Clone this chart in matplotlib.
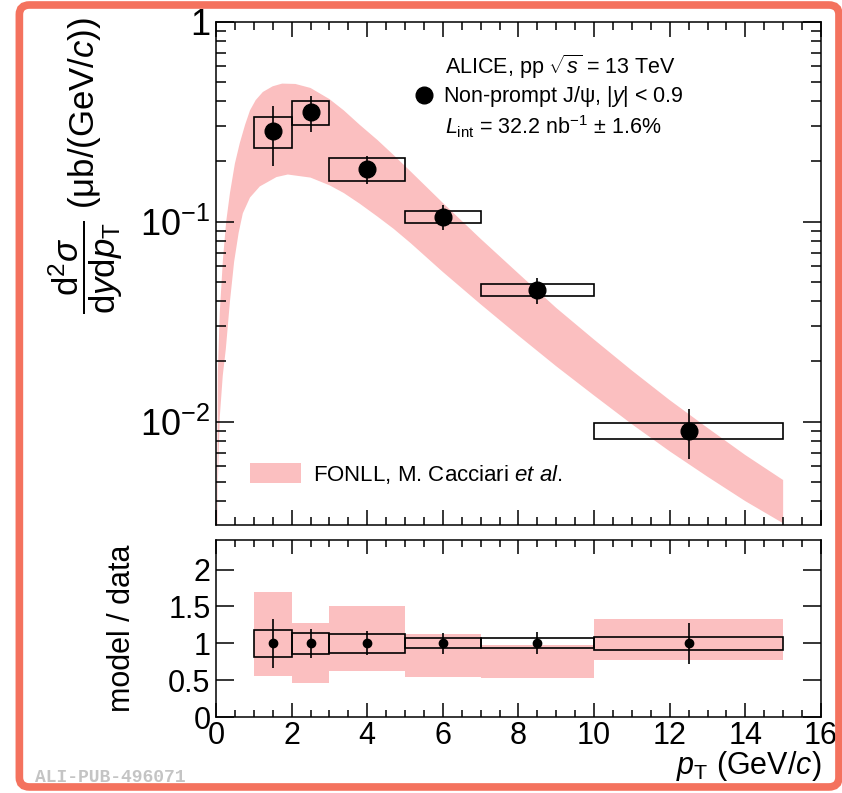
import numpy as np
import matplotlib
matplotlib.use("Agg")
import matplotlib.pyplot as plt
from matplotlib.patches import Patch, FancyBboxPatch
from matplotlib.lines import Line2D
from matplotlib.ticker import LogLocator, FuncFormatter, MultipleLocator, NullFormatter

plt.rcParams["font.family"] = ["Liberation Sans", "DejaVu Sans"]
plt.rcParams["mathtext.fontset"] = "custom"
plt.rcParams["mathtext.rm"] = "Liberation Sans"
plt.rcParams["mathtext.it"] = "Liberation Sans:italic"
plt.rcParams["mathtext.bf"] = "Liberation Sans:bold"
plt.rcParams["mathtext.sf"] = "Liberation Sans"

# pT bins and non-prompt J/psi cross section (ub/(GeV/c))
bin_lo = np.array([1, 2, 3, 5, 7, 10])
bin_hi = np.array([2, 3, 5, 7, 10, 15])
pt_center = np.array([1.5, 2.5, 4.0, 6.0, 8.5, 12.5])
xsec = np.array([0.284, 0.352, 0.184, 0.106, 0.0454, 0.0090])
rel_stat = np.array([0.33, 0.20, 0.16, 0.14, 0.15, 0.28])
rel_sys = np.array([0.18, 0.14, 0.13, 0.07, 0.07, 0.09])

# FONLL band edges
fonll_hi_pt = np.array([0, 0.05, 0.1, 0.185, 0.27, 0.37, 0.5, 0.63, 0.77, 0.9, 1.05,
                        1.24, 1.5, 1.75, 2.1, 2.5, 3.0, 3.38, 3.8, 4.27, 4.7, 5.15,
                        6, 7, 8, 9, 10, 11, 12, 13, 14, 15])
fonll_hi = np.array([1e-4, 0.018, 0.035, 0.065, 0.100, 0.139, 0.195, 0.247, 0.305, 0.36, 0.405,
                     0.445, 0.475, 0.49, 0.488, 0.466, 0.41, 0.36, 0.305, 0.256, 0.215, 0.178,
                     0.124, 0.082, 0.055, 0.037, 0.0257, 0.0180, 0.0128, 0.0093, 0.0068, 0.0051])
fonll_lo_pt = np.array([0, 0.05, 0.1, 0.18, 0.26, 0.37, 0.48, 0.6, 0.71, 0.9, 1.16,
                        1.6, 1.9, 2.5, 3.0, 3.38, 3.8, 4.27, 4.7, 5.15,
                        6, 7, 8, 9, 10, 11, 12, 13, 14, 15])
fonll_lo = np.array([1e-4, 0.005, 0.0105, 0.017, 0.023, 0.040, 0.063, 0.088, 0.110, 0.132, 0.150,
                     0.167, 0.172, 0.166, 0.152, 0.139, 0.123, 0.106, 0.092, 0.078,
                     0.056, 0.0386, 0.0269, 0.0189, 0.0135, 0.0097, 0.0071, 0.0053, 0.0040, 0.0031])

# FONLL / data per bin
ratio_lo = np.array([0.55, 0.46, 0.63, 0.54, 0.53, 0.78])
ratio_hi = np.array([1.69, 1.27, 1.50, 1.12, 0.97, 1.33])

pink = "#fbbfc0"
widths = bin_hi - bin_lo

fig = plt.figure(figsize=(8.42, 7.93), dpi=100)
ax1 = fig.add_axes([0.2565, 0.338, 0.7185, 0.6347])
ax2 = fig.add_axes([0.2565, 0.0958, 0.7185, 0.2232])

# --- top panel
band_x = np.concatenate([fonll_hi_pt, fonll_lo_pt[::-1]])
band_y = np.concatenate([fonll_hi, fonll_lo[::-1]])
ax1.fill(band_x, band_y, color=pink, lw=0, zorder=1)
sys_abs = xsec * rel_sys
ax1.bar(pt_center, 2 * sys_abs, bottom=xsec - sys_abs, width=widths,
        fill=False, edgecolor="black", linewidth=1.2, zorder=2)
ax1.errorbar(pt_center, xsec, yerr=xsec * rel_stat, fmt="o", color="black",
             ms=12, elinewidth=1.2, capsize=0, zorder=3)

ax1.set_yscale("log")
ax1.set_xlim(0, 16)
ax1.set_ylim(3.04e-3, 1.0)
ax1.yaxis.set_major_locator(LogLocator(base=10, numticks=10))
ax1.yaxis.set_minor_locator(LogLocator(base=10, subs=np.arange(2, 10), numticks=10))
ax1.yaxis.set_major_formatter(FuncFormatter(
    lambda v, p: "1" if abs(v - 1) < 1e-9 else r"$10^{%d}$" % round(np.log10(v))))
ax1.yaxis.set_minor_formatter(NullFormatter())
ax1.xaxis.set_major_locator(MultipleLocator(2))
ax1.xaxis.set_minor_locator(MultipleLocator(0.5))
ax1.tick_params(axis="x", labelbottom=False)
ax1.tick_params(which="both", direction="in", top=True, right=True, width=1.1)
ax1.tick_params(which="major", axis="y", length=13, labelsize=26, pad=4)
ax1.tick_params(which="minor", axis="y", length=7)
ax1.tick_params(which="major", axis="x", length=11)
ax1.tick_params(which="minor", axis="x", length=6)
for s in ax1.spines.values():
    s.set_linewidth(1.1)

ax1.set_ylabel(r"$\dfrac{\mathrm{d}^2\sigma}{\mathrm{d}y\mathrm{d}p_\mathrm{T}}$ (μb/(GeV/$c$))",
               fontsize=25, loc="top")
ax1.yaxis.set_label_coords(-0.15, 1.01)

ax1.text(0.378, 0.911, r"ALICE, pp $\sqrt{s}$ = 13 TeV", transform=ax1.transAxes,
         fontsize=15.5, va="center")
ax1.text(0.378, 0.791, r"$L_{\rm int}$ = 32.2 nb$^{-1}$ $\pm$ 1.6%", transform=ax1.transAxes,
         fontsize=15.5, va="center")
leg_data = ax1.legend([Line2D([], [], marker="o", color="black", ls="none", ms=12)],
                      [r"Non-prompt J/ψ, |$y$| < 0.9"], loc="center left",
                      bbox_to_anchor=(0.33, 0.851), frameon=False, fontsize=15.5,
                      handlelength=0.8, handletextpad=0.45, borderpad=0, borderaxespad=0)
ax1.add_artist(leg_data)
ax1.legend([Patch(facecolor=pink, edgecolor="none")],
           [r"FONLL, M. Cacciari $et\ al.$"], loc="center left",
           bbox_to_anchor=(0.056, 0.101), frameon=False, fontsize=16,
           handlelength=2.3, handleheight=1.0, handletextpad=0.55,
           borderpad=0, borderaxespad=0)

# --- bottom panel
ax2.bar(pt_center, ratio_hi - ratio_lo, bottom=ratio_lo, width=widths,
        color=pink, lw=0, zorder=1)
ratio_data = xsec / xsec
ax2.bar(pt_center, 2 * rel_sys, bottom=ratio_data - rel_sys, width=widths,
        fill=False, edgecolor="black", linewidth=1.2, zorder=2)
ax2.errorbar(pt_center, ratio_data, yerr=rel_stat, fmt="o", color="black",
             ms=6, elinewidth=1.2, capsize=0, zorder=3)

ax2.set_xlim(0, 16)
ax2.set_ylim(0, 2.4)
ax2.xaxis.set_major_locator(MultipleLocator(2))
ax2.xaxis.set_minor_locator(MultipleLocator(0.5))
ax2.yaxis.set_major_locator(MultipleLocator(0.5))
ax2.yaxis.set_major_formatter(FuncFormatter(lambda v, p: "%g" % v))
ax2.tick_params(which="both", direction="in", top=True, right=True, width=1.1)
ax2.tick_params(which="major", axis="y", length=13, labelsize=22, pad=4)
ax2.tick_params(which="major", axis="x", length=10, labelsize=22, pad=3)
ax2.tick_params(which="minor", axis="x", length=5)
for s in ax2.spines.values():
    s.set_linewidth(1.1)
ax2.set_ylabel("model / data", fontsize=22)
ax2.yaxis.set_label_coords(-0.13, 0.5)
ax2.set_xlabel(r"$p_\mathrm{T}$ (GeV/$c$)", fontsize=22, loc="right")
ax2.xaxis.set_label_coords(1.0, -0.18)

fig.text(0.042, 0.019, "ALI-PUB-496071", family="Liberation Mono", fontsize=13,
         color="#c4c4c4", weight="bold", va="center")

frame = FancyBboxPatch((0.023, 0.0076), 0.9734, 0.9861, boxstyle="round,pad=0,rounding_size=0.012",
                       transform=fig.transFigure, fill=False, edgecolor="#f4725e",
                       linewidth=5.5, zorder=10)
fig.patches.append(frame)

fig.savefig("out.png", dpi=100)
